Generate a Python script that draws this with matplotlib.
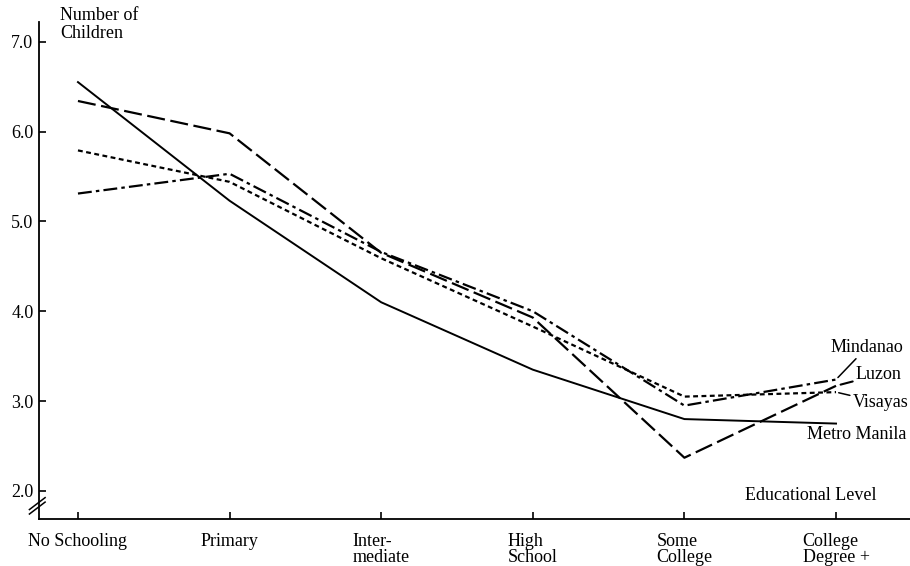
import numpy as np
import matplotlib
matplotlib.use("Agg")
import matplotlib.pyplot as plt

plt.rcParams['font.family'] = ['Liberation Serif', 'DejaVu Serif']
plt.rcParams['lines.scale_dashes'] = False

levels = ["No Schooling", "Primary", "Inter-\nmediate", "High\nSchool",
          "Some\nCollege", "College\nDegree +"]
metro_manila = [6.55, 5.23, 4.10, 3.35, 2.80, 2.75]
luzon = [6.34, 5.98, 4.65, 3.93, 2.37, 3.17]
visayas = [5.79, 5.44, 4.59, 3.83, 3.05, 3.10]
mindanao = [5.31, 5.53, 4.66, 4.00, 2.95, 3.24]
yticks = [2.0, 3.0, 4.0, 5.0, 6.0, 7.0]

fs = 13

fig = plt.figure(figsize=(9.1, 5.66), dpi=100)
ax = fig.add_axes([39/910, 1-519/566, 871/910, 497/566])
x = np.arange(len(levels))

ax.plot(x, metro_manila, color='k', lw=1.4, ls='-')
ax.plot(x, luzon, color='k', lw=1.6, dashes=(13, 4))
ax.plot(x, visayas, color='k', lw=1.6, dashes=(3.5, 2.5))
ax.plot(x, mindanao, color='k', lw=1.6, dashes=(10, 3, 2.5, 3))

ax.set_xlim(-0.257, 5.488)
ax.set_ylim(1.688, 7.219)
ax.set_xticks(x)
ax.set_xticklabels(levels, fontsize=fs, multialignment='left', va='top',
                   linespacing=0.95)
ax.set_yticks(yticks)
ax.set_yticklabels(["%.1f" % v for v in yticks], fontsize=fs)
ax.tick_params(axis='both', direction='in', length=5, width=1.2, color='k')
ax.tick_params(axis='x', pad=10)
ax.tick_params(axis='y', pad=4)

for s in ['top', 'right']:
    ax.spines[s].set_visible(False)
for s in ['left', 'bottom']:
    ax.spines[s].set_linewidth(1.3)

# axis break marks
for dy in (0.0, 0.009):
    ax.plot([-0.011, 0.007], [0.010 + dy, 0.034 + dy], color='k', lw=1.1,
            transform=ax.transAxes, clip_on=False)

# series labels
lab = dict(fontsize=fs, textcoords='offset points')
ax.annotate("Mindanao", xy=(x[-1], mindanao[-1]), xytext=(-4, 17),
            ha='left', va='bottom', arrowprops=dict(arrowstyle='-', lw=1.1, shrinkA=0, shrinkB=2), **lab)
ax.annotate("Luzon", xy=(x[-1], luzon[-1]), xytext=(14, 8),
            ha='left', va='center', arrowprops=dict(arrowstyle='-', lw=1.5, ls=(0, (9, 3)), shrinkA=0, shrinkB=2), **lab)
ax.annotate("Visayas", xy=(x[-1], visayas[-1]), xytext=(12, -7.5),
            ha='left', va='center', arrowprops=dict(arrowstyle='-', lw=1.1, shrinkA=0, shrinkB=2), **lab)
ax.annotate("Metro Manila", xy=(x[-1], metro_manila[-1]), xytext=(-21, -8),
            ha='left', va='center', **lab)

fig.text(60/910, 1-7/566, "Number of\nChildren", fontsize=fs, ha='left', va='top',
         linespacing=1.1)
ax.text(4.40, 1.95, "Educational Level", fontsize=fs, ha='left', va='center')

fig.savefig("out.png", dpi=100)
